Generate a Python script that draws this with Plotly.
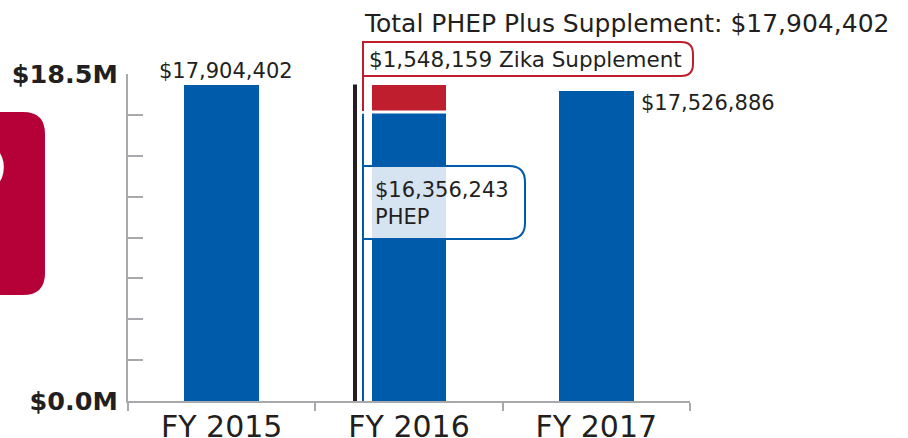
import plotly.graph_objects as go

categories = ["FY 2015", "FY 2016", "FY 2017"]
phep = [17904402, 16356243, 17526886]
zika = [0, 1548159, 0]
total_2016 = 17904402
y_tick_labels = ["$0.0M", "", "", "", "", "", "", "", "$18.5M"]
y_max = 18.5

phep_m = [v / 1e6 for v in phep]
zika_m = [v / 1e6 for v in zika]
total_m = total_2016 / 1e6
tickvals = [y_max * i / 8 for i in range(9)]

BLUE = "#005baa"
RED = "#be1e2d"
DARK = "#231f20"
GRAY = "#a7a9ac"
FONT = "DejaVu Sans"

W, H = 908, 438
L, R, T, B = 128, 690, 74, 401


def px(x):
    return (x - L) / (R - L)


def py(y):
    return (B - y) / (B - T)


def rr_right(x0, y0, x1, y1, r):
    # rectangle with rounded right corners, pixel coords -> paper
    pts = [
        ("M", [(x0, y0)]),
        ("L", [(x1 - r, y0)]),
        ("Q", [(x1, y0), (x1, y0 + r)]),
        ("L", [(x1, y1 - r)]),
        ("Q", [(x1, y1), (x1 - r, y1)]),
        ("L", [(x0, y1)]),
    ]
    s = ""
    for cmd, ps in pts:
        s += cmd + " " + " ".join(f"{px(a):.5f},{py(b):.5f}" for a, b in ps) + " "
    return s + "Z"


fig = go.Figure()
fig.add_trace(go.Bar(x=categories, y=phep_m, marker_color=BLUE, width=0.4,
                     marker_line_width=0, hoverinfo="skip"))
fig.add_trace(go.Bar(x=categories, y=zika_m, marker_color=RED, width=0.4,
                     marker_line_width=0, hoverinfo="skip"))

shapes = []
# white separator between PHEP and Zika on FY2016
shapes.append(dict(type="line", xref="x", yref="y", x0=0.8, x1=1.2,
                   y0=phep_m[1], y1=phep_m[1], line=dict(color="white", width=3)))
# black reference line
shapes.append(dict(type="line", xref="paper", yref="y", x0=px(355), x1=px(355),
                   y0=0, y1=total_m, line=dict(color=DARK, width=4)))
# blue leader line
shapes.append(dict(type="line", xref="paper", yref="y", x0=px(363), x1=px(363),
                   y0=0, y1=phep_m[1] - 0.1, line=dict(color=BLUE, width=2)))
# red leader line
shapes.append(dict(type="line", xref="paper", yref="paper", x0=px(363), x1=px(363),
                   y0=py(111), y1=py(42), line=dict(color=RED, width=2)))
# red callout box
shapes.append(dict(type="path", xref="paper", yref="paper",
                   path=rr_right(363, 42, 693, 76, 12),
                   line=dict(color=RED, width=2), fillcolor="white"))
# blue callout box
shapes.append(dict(type="path", xref="paper", yref="paper",
                   path=rr_right(363, 166, 525, 239, 16),
                   line=dict(color=BLUE, width=2), fillcolor="rgba(255,255,255,0.84)"))
# crimson block at the left edge
shapes.append(dict(type="path", xref="paper", yref="paper",
                   path=rr_right(-10, 112, 45, 295, 22),
                   line=dict(width=0), fillcolor="#b60038", layer="below"))

annotations = []
annotations.append(dict(text="6", xref="paper", yref="paper", x=px(11), y=py(157),
                        xanchor="right", yanchor="middle", showarrow=False,
                        font=dict(family=FONT, size=104, color="white", weight="bold")))
annotations.append(dict(text="Total PHEP Plus Supplement: $17,904,402", xref="paper",
                        yref="paper", x=px(362), y=py(23), xanchor="left", yanchor="middle",
                        showarrow=False, font=dict(family=FONT, size=25, color=DARK)))
annotations.append(dict(text="$1,548,159 Zika Supplement", xref="paper", yref="paper",
                        x=px(367), y=py(59), xanchor="left", yanchor="middle",
                        showarrow=False, font=dict(family=FONT, size=21.5, color=DARK)))
annotations.append(dict(text=f"${phep[1]:,}<br>PHEP", xref="paper", yref="paper",
                        x=px(373), y=py(203), xanchor="left", yanchor="middle", align="left",
                        showarrow=False, font=dict(family=FONT, size=21, color=DARK)))
annotations.append(dict(text=f"${phep[0]:,}", xref="x", yref="y", x=0, y=phep_m[0],
                        xanchor="center", yanchor="bottom", xshift=4, yshift=0,
                        showarrow=False, font=dict(family=FONT, size=21, color=DARK)))
annotations.append(dict(text=f"${phep[2]:,}", xref="x", yref="y", x=2.2, y=phep_m[2],
                        xanchor="left", yanchor="top", xshift=5, yshift=2,
                        showarrow=False, font=dict(family=FONT, size=21, color=DARK)))

fig.update_layout(
    width=W, height=H,
    margin=dict(l=L, r=W - R, t=T, b=H - B, pad=0),
    barmode="stack", showlegend=False, bargap=0,
    plot_bgcolor="white", paper_bgcolor="white",
    shapes=shapes, annotations=annotations,
    xaxis=dict(type="category", range=[-0.5, 2.5], showline=True, linecolor=GRAY,
               linewidth=2, ticks="outside", tickson="boundaries", ticklen=8,
               tickcolor=GRAY, tickwidth=2, showgrid=False, zeroline=False,
               automargin=False, ticklabelstandoff=-2,
               tickfont=dict(family=FONT, size=30, color=DARK)),
    yaxis=dict(range=[0, y_max], tickvals=tickvals, ticktext=y_tick_labels,
               showline=True, linecolor=GRAY, linewidth=2, ticks="inside", ticklen=15,
               tickcolor=GRAY, tickwidth=2, showgrid=False, zeroline=False,
               ticklabelstandoff=3, automargin=False,
               tickfont=dict(family=FONT, size=25.5, color=DARK, weight="bold")),
)

fig.write_html("out.html")
